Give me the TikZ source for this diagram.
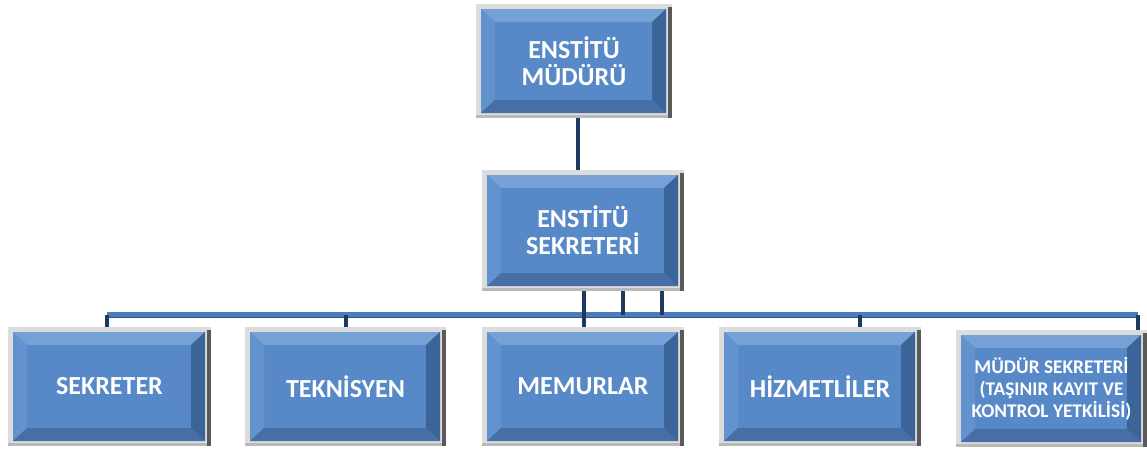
\documentclass[tikz,border=0pt]{standalone}
\usepackage{fontspec}
\setmainfont{Carlito}
\definecolor{face}{HTML}{5788C8}
\definecolor{bevtop}{HTML}{76A1D7}
\definecolor{bevleft}{HTML}{6393CF}
\definecolor{bevright}{HTML}{3B6499}
\definecolor{bevbot}{HTML}{476FA5}
\definecolor{framelt}{HTML}{DCDCDC}
\definecolor{framedk}{HTML}{5A5A5A}
\definecolor{navy}{HTML}{1F3A5F}
\definecolor{busblue}{HTML}{4A7EBB}
\definecolor{busdark}{HTML}{2C5283}
\tikzset{
  boxtext/.style={text=white, font=\bfseries\fontsize{19.5}{20}\selectfont, align=center, inner sep=0pt},
  smalltext/.style={text=white, font=\bfseries\fontsize{14.5}{16.5}\selectfont, align=center, inner sep=0pt},
  vline/.style={draw=navy, line width=3pt},
  busline/.style={draw=busblue, line width=4pt},
  busedge/.style={draw=busdark, line width=1.2pt},
}
\newcommand\bevbox[7]{%
  \fill[framelt] (#2,#3) rectangle (#4,#5);
  \fill[framedk] ({#4-4},{#3+3}) rectangle (#4,#5);
  \fill[gray!55] (#2,{#5-3}) rectangle ({#4-4},#5);
  \fill[face] ({#2+5},{#3+5}) rectangle ({#4-6},{#5-5});
  \fill[bevtop] ({#2+5},{#3+5}) -- ({#4-6},{#3+5}) -- ({#4-20},{#3+18}) -- ({#2+19},{#3+18}) -- cycle;
  \fill[bevleft] ({#2+5},{#3+5}) -- ({#2+19},{#3+18}) -- ({#2+19},{#5-18}) -- ({#2+5},{#5-5}) -- cycle;
  \fill[bevright] ({#4-6},{#3+5}) -- ({#4-20},{#3+18}) -- ({#4-20},{#5-18}) -- ({#4-6},{#5-5}) -- cycle;
  \fill[bevbot] ({#2+5},{#5-5}) -- ({#2+19},{#5-18}) -- ({#4-20},{#5-18}) -- ({#4-6},{#5-5}) -- cycle;
  \node[#7, minimum width={(#4-#2)*0.75pt}, minimum height={(#5-#3)*0.75pt}] (#1) at ({(#2+#4)/2},{(#3+#5)/2}) {#6};
}
\begin{document}
\begin{tikzpicture}[x=0.75pt,y=-0.75pt]
\useasboundingbox (0,0) rectangle (1147,451);
\coordinate (busL) at (107,315);
\coordinate (busR) at (1138,315);
\bevbox{mud}{476}{4}{672}{118}{ENSTİTÜ\\MÜDÜRÜ}{boxtext}
\bevbox{sek0}{482}{170}{684}{291}{ENSTİTÜ\\SEKRETERİ}{boxtext}
\bevbox{sek}{8}{327}{211}{446}{SEKRETER}{boxtext}
\bevbox{tek}{245}{327}{446}{446}{TEKNİSYEN}{boxtext}
\bevbox{mem}{482}{327}{684}{446}{MEMURLAR}{boxtext}
\bevbox{hiz}{719}{327}{921}{446}{HİZMETLİLER}{boxtext}
\bevbox{msek}{956}{330}{1147}{447}{MÜDÜR SEKRETERİ\\(TAŞINIR KAYIT VE\\KONTROL YETKİLİSİ)}{smalltext}
\draw[vline] (mud.south -| 578,0) -- (sek0.north -| 578,0);
\draw[busline] (busL) -- (busR);
\draw[busedge] ([yshift=-2pt]busL) -- ([yshift=-2pt]busR);
\draw[vline] ([xshift=0.75pt]sek0.south) -- ([xshift=0.75pt]mem.north);
\draw[vline] ([xshift=30pt]sek0.south) -- ([xshift=30pt]sek0.south |- busL);
\draw[vline] ([xshift=59.25pt]sek0.south) -- ([xshift=59.25pt]sek0.south |- busL);
\draw[vline] (busL) -- (busL |- sek.north);
\draw[vline] (tek.north |- busL) -- (tek.north);
\draw[vline] ([xshift=30pt]hiz.north |- busL) -- ([xshift=30pt]hiz.north);
\draw[vline] (busR) -- (busR |- msek.north);
\end{tikzpicture}
\end{document}
